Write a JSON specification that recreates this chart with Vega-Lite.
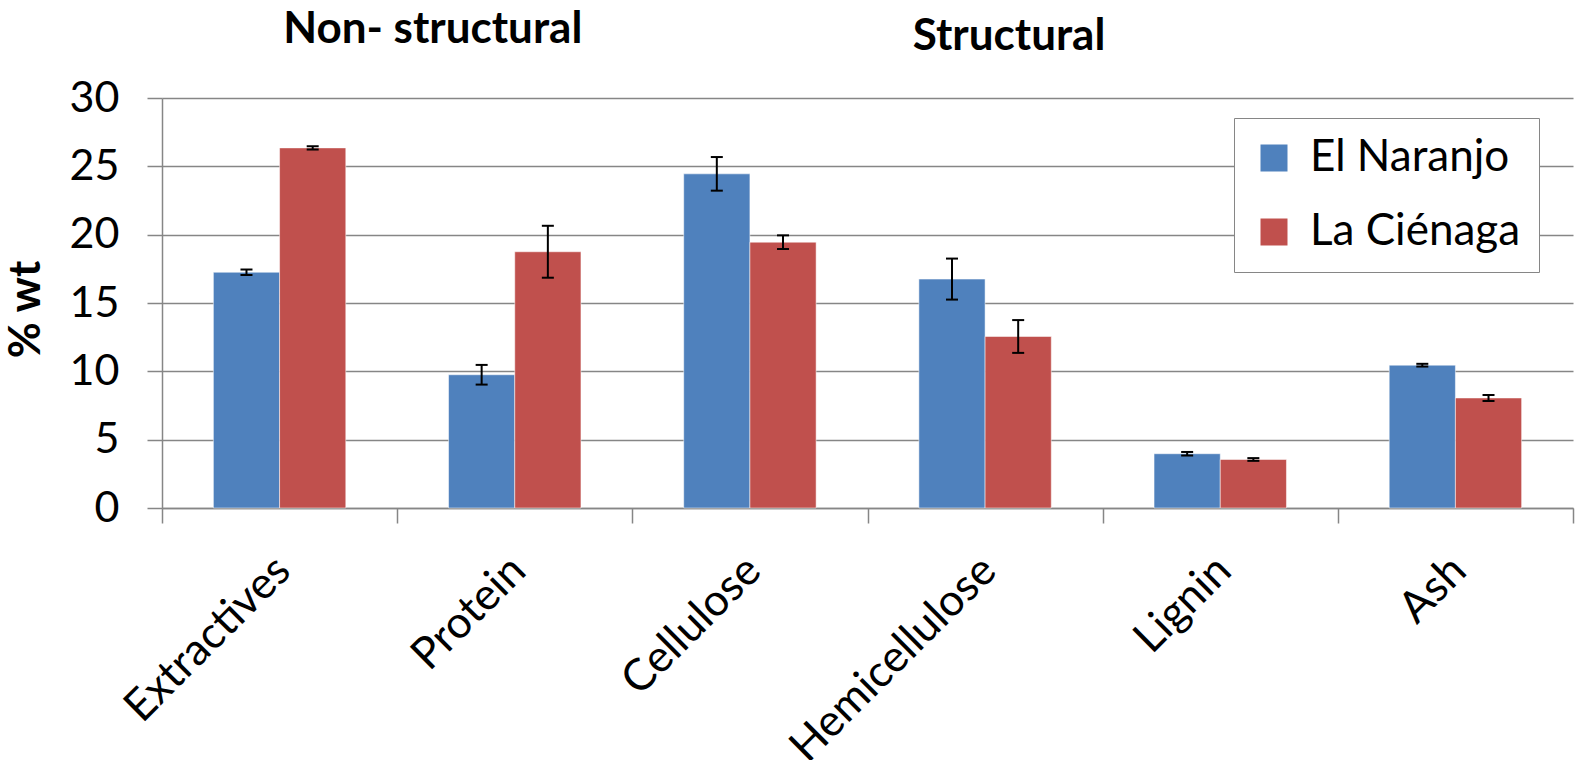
{
  "$schema": "https://vega.github.io/schema/vega-lite/v6.json",
  "width": 1411,
  "height": 410,
  "autosize": {"type": "none"},
  "padding": {"left": 162, "top": 98, "right": 12, "bottom": 252},
  "background": "white",
  "config": {"font": "Lato", "view": {"stroke": null}},
  "datasets": {
    "comp": [
      {"component": "Extractives", "site": "El Naranjo", "value": 17.25, "lo": 17.05, "hi": 17.45},
      {"component": "Extractives", "site": "La Ciénaga", "value": 26.35, "lo": 26.23, "hi": 26.47},
      {"component": "Protein", "site": "El Naranjo", "value": 9.75, "lo": 9.03, "hi": 10.47},
      {"component": "Protein", "site": "La Ciénaga", "value": 18.75, "lo": 16.85, "hi": 20.65},
      {"component": "Cellulose", "site": "El Naranjo", "value": 24.45, "lo": 23.22, "hi": 25.68},
      {"component": "Cellulose", "site": "La Ciénaga", "value": 19.45, "lo": 18.95, "hi": 19.95},
      {"component": "Hemicellulose", "site": "El Naranjo", "value": 16.75, "lo": 15.25, "hi": 18.25},
      {"component": "Hemicellulose", "site": "La Ciénaga", "value": 12.55, "lo": 11.35, "hi": 13.75},
      {"component": "Lignin", "site": "El Naranjo", "value": 3.97, "lo": 3.84, "hi": 4.1},
      {"component": "Lignin", "site": "La Ciénaga", "value": 3.55, "lo": 3.45, "hi": 3.65},
      {"component": "Ash", "site": "El Naranjo", "value": 10.45, "lo": 10.35, "hi": 10.55},
      {"component": "Ash", "site": "La Ciénaga", "value": 8.05, "lo": 7.83, "hi": 8.27}
    ]
  },
  "layer": [
    {
      "data": {"name": "comp"},
      "mark": {"type": "bar", "stroke": "#ffffff", "strokeOpacity": 0.5, "strokeWidth": 1},
      "encoding": {
        "x": {
          "field": "component", "type": "nominal",
          "sort": ["Extractives", "Protein", "Cellulose", "Hemicellulose", "Lignin", "Ash"],
          "scale": {"paddingInner": 0, "paddingOuter": 0},
          "axis": {
            "title": null, "tickBand": "extent", "ticks": true, "tickSize": 15,
            "tickColor": "#868686", "tickWidth": 1.5, "domainColor": "#868686", "domainWidth": 1.5,
            "labelAngle": -45, "labelAlign": "right", "labelBaseline": "top", "labelLimit": 0,
            "labelFontSize": 44, "labelColor": "#000000", "labelPadding": 25, "labelOffset": -12, "grid": false
          }
        },
        "xOffset": {"field": "site", "type": "nominal", "sort": ["El Naranjo", "La Ciénaga"], "scale": {"paddingInner": 0, "paddingOuter": 0.776}},
        "y": {
          "field": "value", "type": "quantitative",
          "scale": {"domain": [0, 30], "nice": false},
          "axis": {
            "title": "% wt", "values": [0, 5, 10, 15, 20, 25, 30],
            "grid": true, "gridColor": "#868686", "gridWidth": 1.5,
            "domain": true, "domainColor": "#868686", "domainWidth": 1.5,
            "ticks": true, "tickSize": 15, "tickColor": "#868686", "tickWidth": 1.5,
            "labelFontSize": 43, "labelColor": "#000000", "labelPadding": 28,
            "titleFontSize": 44, "titleFontWeight": "bold", "titleColor": "#000000",
            "titleX": -136, "titleY": 211, "titleAngle": -90, "titleAlign": "center", "titleBaseline": "middle"
          }
        },
        "color": {
          "field": "site", "type": "nominal",
          "scale": {"domain": ["El Naranjo", "La Ciénaga"], "range": ["#4F81BD", "#C0504D"]},
          "legend": {
            "title": null, "orient": "none", "legendX": 1072, "legendY": 20,
            "direction": "vertical", "symbolType": "square", "symbolSize": 729,
            "symbolStrokeWidth": 0, "labelFontSize": 44, "labelColor": "#000000", "labelLimit": 0,
            "labelOffset": 14, "rowPadding": 30, "padding": 18,
            "strokeColor": "#868686", "fillColor": "#ffffff"
          }
        }
      }
    },
    {
      "data": {"name": "comp"},
      "mark": {"type": "rule", "color": "#000000", "strokeWidth": 2},
      "encoding": {
        "x": {"field": "component", "type": "nominal", "sort": ["Extractives", "Protein", "Cellulose", "Hemicellulose", "Lignin", "Ash"]},
        "xOffset": {"field": "site", "type": "nominal", "sort": ["El Naranjo", "La Ciénaga"]},
        "y": {"field": "lo", "type": "quantitative"},
        "y2": {"field": "hi"}
      }
    },
    {
      "data": {"name": "comp"},
      "mark": {"type": "tick", "color": "#000000", "thickness": 2, "size": 12, "opacity": 1},
      "encoding": {
        "x": {"field": "component", "type": "nominal", "sort": ["Extractives", "Protein", "Cellulose", "Hemicellulose", "Lignin", "Ash"]},
        "xOffset": {"field": "site", "type": "nominal", "sort": ["El Naranjo", "La Ciénaga"]},
        "y": {"field": "lo", "type": "quantitative"}
      }
    },
    {
      "data": {"name": "comp"},
      "mark": {"type": "tick", "color": "#000000", "thickness": 2, "size": 12, "opacity": 1},
      "encoding": {
        "x": {"field": "component", "type": "nominal", "sort": ["Extractives", "Protein", "Cellulose", "Hemicellulose", "Lignin", "Ash"]},
        "xOffset": {"field": "site", "type": "nominal", "sort": ["El Naranjo", "La Ciénaga"]},
        "y": {"field": "hi", "type": "quantitative"}
      }
    },
    {
      "data": {"values": [{"group": "Non- structural", "component": "Protein", "level": 34.95}]},
      "mark": {"type": "text", "fontSize": 44, "fontWeight": "bold", "color": "#000000", "align": "center", "baseline": "middle", "dx": -82},
      "encoding": {
        "x": {"field": "component", "type": "nominal", "sort": ["Extractives", "Protein", "Cellulose", "Hemicellulose", "Lignin", "Ash"]},
        "y": {"field": "level", "type": "quantitative"},
        "text": {"field": "group"}
      }
    },
    {
      "data": {"values": [{"group": "Structural", "component": "Hemicellulose", "level": 34.45}]},
      "mark": {"type": "text", "fontSize": 44, "fontWeight": "bold", "color": "#000000", "align": "center", "baseline": "middle", "dx": 24},
      "encoding": {
        "x": {"field": "component", "type": "nominal", "sort": ["Extractives", "Protein", "Cellulose", "Hemicellulose", "Lignin", "Ash"]},
        "y": {"field": "level", "type": "quantitative"},
        "text": {"field": "group"}
      }
    }
  ]
}
